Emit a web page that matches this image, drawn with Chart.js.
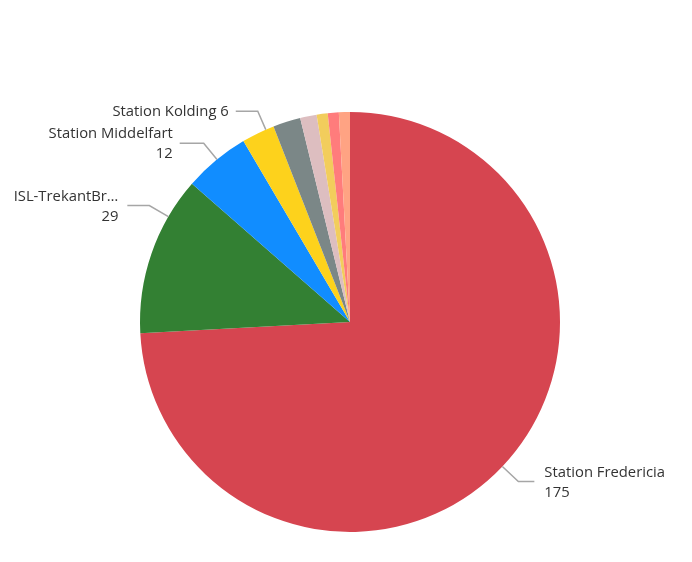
<!DOCTYPE html>
<html>
<head>
<meta charset="utf-8">
<script src="https://cdn.jsdelivr.net/npm/chart.js@4"></script>
<style>
  body { margin: 0; background: #fff; }
  canvas { display: block; }
</style>
</head>
<body>
<canvas id="grafico" width="692" height="562"></canvas>
<script>
// data
const categories = ["Station Fredericia", "ISL-TrekantBroen", "Station Middelfart", "Station Kolding",
  "Øvrige 1", "Øvrige 2", "Øvrige 3", "Øvrige 4", "Øvrige 5"];
const values = [175, 29, 12, 6, 5, 3, 2, 2, 2];
const colors = ["#D64550", "#338033", "#118DFF", "#FDD21C", "#7B8787", "#DDBEC0", "#F2CD5C", "#FF7C7C", "#FFA383"];

// which slices get a label and how it is placed
const labelSetup = [
  { i: 0, text: "Station Fredericia", frac: 0.5, out: 22, horiz: 16, gap: 10, twoLines: true },
  { i: 1, text: "ISL-TrekantBr\u2026", frac: 0.75, out: 22, horiz: 22, gap: 9, twoLines: true },
  { i: 2, text: "Station Middelfart", frac: 0.52, out: 21, horiz: 24, gap: 7, twoLines: true },
  { i: 3, text: "Station Kolding", frac: 0.75, out: 20, horiz: 22, gap: 7, twoLines: false }
];

const etiquetas = {
  id: "etiquetas",
  afterDraw(chart) {
    const ctx = chart.ctx;
    const meta = chart.getDatasetMeta(0);
    ctx.save();
    ctx.font = "14.8px 'Open Sans', sans-serif";
    ctx.textBaseline = "middle";
    labelSetup.forEach(l => {
      const arc = meta.data[l.i];
      const a = arc.startAngle + (arc.endAngle - arc.startAngle) * l.frac;
      const r = arc.outerRadius;
      const x0 = arc.x + Math.cos(a) * r, y0 = arc.y + Math.sin(a) * r;
      const x1 = arc.x + Math.cos(a) * (r + l.out), y1 = arc.y + Math.sin(a) * (r + l.out);
      const right = Math.cos(a) >= 0;
      const x2 = right ? x1 + l.horiz : x1 - l.horiz;
      ctx.strokeStyle = "#A6A6A6";
      ctx.lineWidth = 1.5;
      ctx.beginPath();
      ctx.moveTo(x0, y0);
      ctx.lineTo(x1, y1);
      ctx.lineTo(x2, y1);
      ctx.stroke();
      ctx.fillStyle = "#333333";
      ctx.textAlign = right ? "left" : "right";
      const tx = right ? x2 + l.gap : x2 - l.gap;
      const v = values[l.i];
      if (l.twoLines) {
        ctx.fillText(l.text, tx, y1 - 9);
        ctx.fillText(String(v), tx, y1 + 11);
      } else {
        ctx.fillText(l.text + " " + v, tx, y1);
      }
    });
    ctx.restore();
  }
};

new Chart(document.getElementById("grafico").getContext("2d"), {
  type: "pie",
  data: {
    labels: categories,
    datasets: [{
      data: values,
      backgroundColor: colors,
      borderWidth: 0
    }]
  },
  options: {
    responsive: false,
    animation: false,
    layout: { padding: { top: 112, bottom: 30, left: 140, right: 132 } },
    plugins: {
      legend: { display: false },
      tooltip: { enabled: false }
    }
  },
  plugins: [etiquetas]
});
</script>
</body>
</html>
